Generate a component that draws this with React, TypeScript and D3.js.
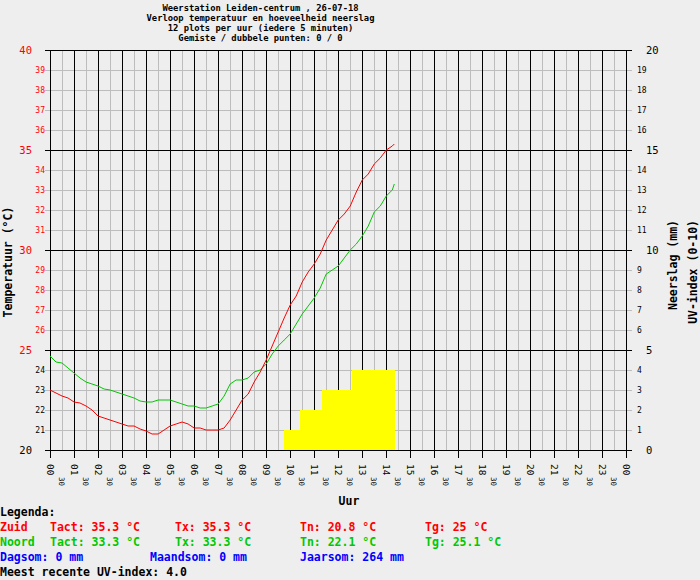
import React from 'react';
import * as d3 from 'd3';

const titel = [
  'Weerstation Leiden-centrum , 26-07-18',
  'Verloop temperatuur en hoeveelheid neerslag',
  '12 plots per uur (iedere 5 minuten)',
  'Gemiste / dubbele punten: 0 / 0'
];

const tijden = [
  '00:00', '00:15', '00:30', '00:45', '01:00', '01:15', '01:30', '01:45',
  '02:00', '02:15', '02:30', '02:45', '03:00', '03:15', '03:30', '03:45',
  '04:00', '04:15', '04:30', '04:45', '05:00', '05:15', '05:30', '05:45',
  '06:00', '06:15', '06:30', '06:45', '07:00', '07:15', '07:30', '07:45',
  '08:00', '08:15', '08:30', '08:45', '09:00', '09:15', '09:30', '09:45',
  '10:00', '10:15', '10:30', '10:45', '11:00', '11:15', '11:30', '11:45',
  '12:00', '12:15', '12:30', '12:45', '13:00', '13:15', '13:30', '13:45',
  '14:00', '14:15', '14:20'
];

const zuid = [
  23.0, 22.85, 22.7, 22.6, 22.4, 22.35, 22.2, 22.0,
  21.7, 21.6, 21.5, 21.4, 21.3, 21.2, 21.2, 21.05,
  20.95, 20.8, 20.8, 21.0, 21.2, 21.3, 21.4, 21.3,
  21.1, 21.1, 21.0, 21.0, 21.0, 21.1, 21.5, 22.0,
  22.5, 22.8, 23.4, 23.9, 24.5, 25.2, 25.9, 26.6,
  27.25, 27.7, 28.4, 28.9, 29.3, 29.8, 30.5, 31.0,
  31.5, 31.8, 32.2, 32.9, 33.5, 33.8, 34.3, 34.6,
  35.0, 35.2, 35.3
];

const noord = [
  24.7, 24.4, 24.35, 24.1, 23.85, 23.6, 23.4, 23.3,
  23.2, 23.05, 23.0, 22.9, 22.8, 22.7, 22.6, 22.45,
  22.4, 22.4, 22.5, 22.5, 22.5, 22.4, 22.3, 22.2,
  22.2, 22.1, 22.1, 22.2, 22.3, 22.7, 23.3, 23.5,
  23.5, 23.6, 23.9, 24.0, 24.3, 24.8, 25.2, 25.5,
  25.8, 26.3, 26.8, 27.2, 27.6, 28.1, 28.8, 29.0,
  29.2, 29.6, 30.0, 30.3, 30.7, 31.2, 31.9, 32.2,
  32.7, 33.0, 33.3
];

// UV-index blokken: begin, eind, waarde
const uvBegin = ['09:45', '10:25', '11:20', '12:35'];
const uvEind = ['10:25', '11:20', '12:35', '14:22'];
const uvWaarde = [1, 2, 3, 4];

const uurLabels = ['00', '01', '02', '03', '04', '05', '06', '07', '08', '09', '10', '11',
  '12', '13', '14', '15', '16', '17', '18', '19', '20', '21', '22', '23', '00'];

const legendaZuid = ['Zuid', 'Tact: 35.3 °C', 'Tx: 35.3 °C', 'Tn: 20.8 °C', 'Tg: 25 °C'];
const legendaNoord = ['Noord', 'Tact: 33.3 °C', 'Tx: 33.3 °C', 'Tn: 22.1 °C', 'Tg: 25.1 °C'];
const legendaRegen = ['Dagsom: 0 mm', 'Maandsom: 0 mm', 'Jaarsom: 264 mm'];

const W = 700;
const H = 580;
const MONO = '"DejaVu Sans Mono", monospace';
const RED = '#ff0000';
const GREEN = '#00c800';
const BLUE = '#0000ff';

const toUur = (t: string) => {
  const [h, m] = t.split(':').map(Number);
  return h + m / 60;
};

const App: React.FC = () => {
  const x = d3.scaleLinear().domain([0, 24]).range([50, 626.5]);
  const y = d3.scaleLinear().domain([20, 40]).range([450, 50]);
  const yRechts = d3.scaleLinear().domain([0, 20]).range([450, 50]);

  const left = 45;
  const right = 632;

  const graden = d3.range(20, 41);
  const mmTicks = d3.range(0, 21);
  const uren = d3.range(0, 25);
  const halfUren = d3.range(0.5, 24, 1);

  const lijn = (vals: number[]) =>
    d3.line<number>()
      .x((d, i) => x(toUur(tijden[i])))
      .y(d => y(d))(vals) || '';

  const col = [0, 50, 175, 300, 425];
  const colRegen = [0, 150, 300];

  return (
    <svg width={W} height={H} style={{ position: 'absolute', left: 0, top: 0 }}>
      <rect width={W} height={H} fill="#eeeeee" />

      {/* titel */}
      {titel.map((t, i) => (
        <text key={t} x={260.5} y={11 + i * 10} textAnchor="middle"
          fontFamily={MONO} fontWeight="bold" fontSize={9.5}
          textLength={t.length * 5.3} lengthAdjust="spacingAndGlyphs">{t}</text>
      ))}

      {/* grid */}
      <g shapeRendering="crispEdges">
        {graden.filter(g => g % 5 !== 0).map(g => (
          <line key={'hg' + g} x1={left} x2={right} y1={y(g)} y2={y(g)} stroke="#bdbdbd" />
        ))}
        {halfUren.map(h => (
          <line key={'vg' + h} x1={x(h)} x2={x(h)} y1={50} y2={450} stroke="#bdbdbd" />
        ))}
        {graden.filter(g => g % 5 === 0).map(g => (
          <line key={'hb' + g} x1={left} x2={right} y1={y(g)} y2={y(g)} stroke="#000" />
        ))}
        {uren.map(h => (
          <line key={'vb' + h} x1={x(h)} x2={x(h)} y1={50} y2={458} stroke="#000" />
        ))}

        {/* UV-index */}
        {uvWaarde.map((v, i) => (
          <rect key={'uv' + i} x={x(toUur(uvBegin[i]))} y={yRechts(v)}
            width={x(toUur(uvEind[i])) - x(toUur(uvBegin[i]))}
            height={yRechts(0) - yRechts(v)} fill="#ffff00" />
        ))}
        <line x1={left} x2={right} y1={450} y2={450} stroke="#000" />
        {uren.map(h => (
          <line key={'vt' + h} x1={x(h)} x2={x(h)} y1={450} y2={458} stroke="#000" />
        ))}
      </g>

      {/* temperatuurlijnen */}
      <path d={lijn(noord)} fill="none" stroke={GREEN} strokeWidth={1} />
      <path d={lijn(zuid)} fill="none" stroke={RED} strokeWidth={1} />

      {/* linker as */}
      {graden.map(g => {
        const groot = g % 5 === 0;
        return (
          <text key={'lt' + g} x={groot ? 32 : 45} y={y(g)} textAnchor="end"
            dominantBaseline="central" fontFamily={MONO}
            fontSize={groot ? 10.5 : 8} fill={g >= 25 ? RED : '#000'}>{g}</text>
        );
      })}

      {/* rechter as */}
      {mmTicks.map(m => {
        const groot = m % 5 === 0;
        return (
          <text key={'rt' + m} x={groot ? 646 : 637} y={yRechts(m)}
            dominantBaseline="central" fontFamily={MONO}
            fontSize={groot ? 10.5 : 8} fill="#000">{m}</text>
        );
      })}

      {/* x-as labels */}
      {uurLabels.map((l, i) => (
        <text key={'ul' + i} transform={`translate(${x(i)},464) rotate(90)`}
          dominantBaseline="central" fontFamily={MONO} fontSize={9.5}>{l}</text>
      ))}
      {halfUren.map(h => (
        <text key={'hl' + h} transform={`translate(${x(h) - 1},477) rotate(90)`}
          dominantBaseline="central" fontFamily={MONO} fontSize={7.5}>30</text>
      ))}

      {/* as titels */}
      <text x={349} y={505} textAnchor="middle" fontFamily={MONO} fontWeight="bold" fontSize={11.5}>Uur</text>
      <text transform="translate(11.5,262) rotate(-90)" textAnchor="middle"
        fontFamily={MONO} fontWeight="bold" fontSize={11.5}>Temperatuur (°C)</text>
      <text transform="translate(677,220) rotate(-90)" textAnchor="end"
        fontFamily={MONO} fontWeight="bold" fontSize={11.5}>Neerslag (mm)</text>
      <text transform="translate(697,220) rotate(-90)" textAnchor="end"
        fontFamily={MONO} fontWeight="bold" fontSize={11.5}>UV-index (0-10)</text>

      {/* legenda */}
      <g fontFamily={MONO} fontWeight="bold" fontSize={11.5}>
        <text x={0} y={516}>Legenda:</text>
        {legendaZuid.map((t, i) => (
          <text key={'z' + i} x={col[i]} y={531} fill={RED}>{t}</text>
        ))}
        {legendaNoord.map((t, i) => (
          <text key={'n' + i} x={col[i]} y={546} fill={GREEN}>{t}</text>
        ))}
        {legendaRegen.map((t, i) => (
          <text key={'r' + i} x={colRegen[i]} y={561} fill={BLUE}>{t}</text>
        ))}
        <text x={0} y={576}>Meest recente UV-index: 4.0</text>
      </g>
    </svg>
  );
};

export default App;
